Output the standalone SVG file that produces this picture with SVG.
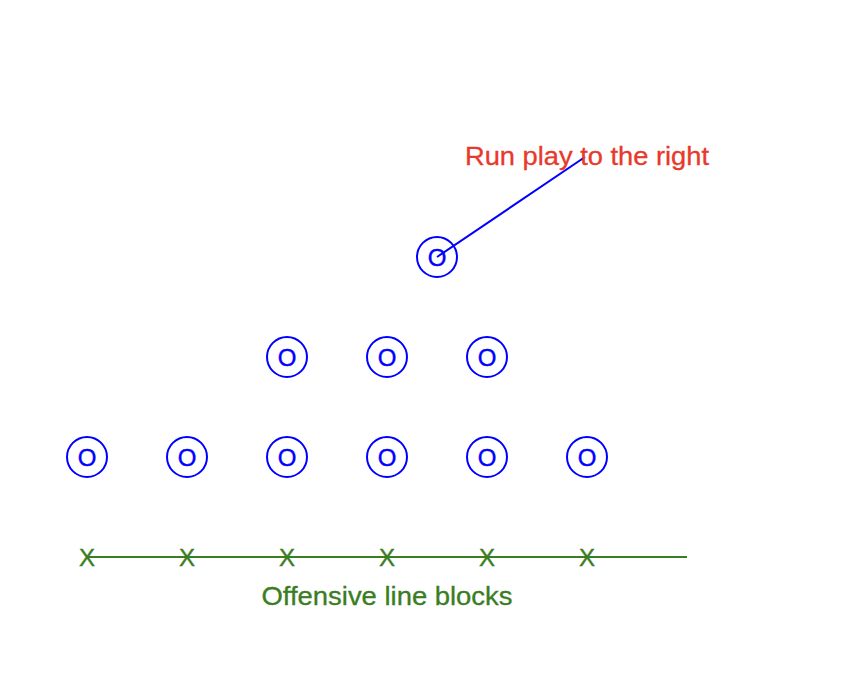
<svg xmlns="http://www.w3.org/2000/svg" width="866" height="700" viewBox="0 0 866 700">
<style>
.p circle{fill:none;stroke:#0000ff;stroke-width:2}
.p text{font-family:"Liberation Sans",Arial,sans-serif;font-size:24px;fill:#0000ff;stroke:#0000ff;stroke-width:0.4;text-anchor:middle}
.x{font-family:"Liberation Sans",Arial,sans-serif;font-size:24px;fill:#3a7d22;stroke:#3a7d22;stroke-width:0.4;text-anchor:middle}
.lbl{font-family:"Liberation Sans",Arial,sans-serif;font-size:25px;text-anchor:middle;stroke-width:0.3}
</style>
<rect width="866" height="700" fill="#ffffff"/>
<g id="connectors">
<line x1="437" y1="257" x2="585" y2="157" stroke="#0000ff" stroke-width="2"/>
<line x1="87" y1="557" x2="687" y2="557" stroke="#3a7d22" stroke-width="2"/>
</g>
<g id="qb" class="p"><circle cx="437" cy="257" r="20"/><text x="437" y="266">O</text></g>
<g id="back1" class="p"><circle cx="287" cy="357" r="20"/><text x="287" y="366">O</text></g>
<g id="back2" class="p"><circle cx="387" cy="357" r="20"/><text x="387" y="366">O</text></g>
<g id="back3" class="p"><circle cx="487" cy="357" r="20"/><text x="487" y="366">O</text></g>
<g id="line1" class="p"><circle cx="87" cy="457" r="20"/><text x="87" y="466">O</text></g>
<g id="line2" class="p"><circle cx="187" cy="457" r="20"/><text x="187" y="466">O</text></g>
<g id="line3" class="p"><circle cx="287" cy="457" r="20"/><text x="287" y="466">O</text></g>
<g id="line4" class="p"><circle cx="387" cy="457" r="20"/><text x="387" y="466">O</text></g>
<g id="line5" class="p"><circle cx="487" cy="457" r="20"/><text x="487" y="466">O</text></g>
<g id="line6" class="p"><circle cx="587" cy="457" r="20"/><text x="587" y="466">O</text></g>
<g id="defenders">
<text class="x" x="87" y="566">X</text>
<text class="x" x="187" y="566">X</text>
<text class="x" x="287" y="566">X</text>
<text class="x" x="387" y="566">X</text>
<text class="x" x="487" y="566">X</text>
<text class="x" x="587" y="566">X</text>
</g>
<g id="labels">
<text class="lbl" x="587" y="165" fill="#e8392b" stroke="#e8392b" textLength="244" lengthAdjust="spacingAndGlyphs">Run play to the right</text>
<text class="lbl" x="387" y="605" fill="#3a7d22" stroke="#3a7d22" textLength="251" lengthAdjust="spacingAndGlyphs">Offensive line blocks</text>
</g>
</svg>
